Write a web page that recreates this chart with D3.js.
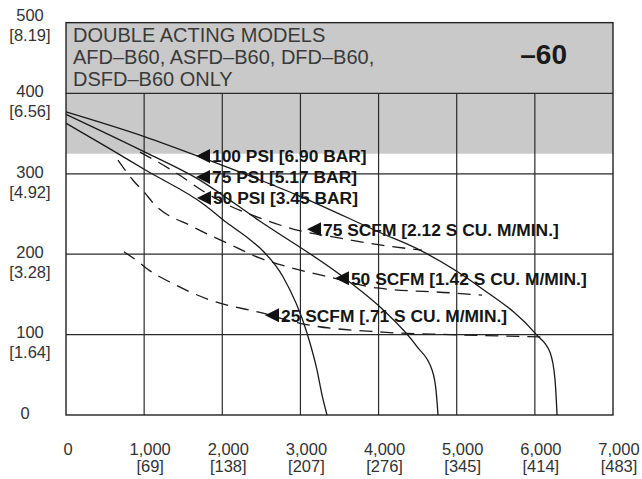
<!DOCTYPE html>
<html><head><meta charset="utf-8">
<script src="https://cdn.jsdelivr.net/npm/d3@7"></script>
<style>
body{margin:0;background:#fff;}
svg{display:block;font-family:"Liberation Sans",Arial,Helvetica,sans-serif;}
</style></head><body>
<div id="chart"></div>
<script>
// ---- data ----
const xTicks = [0,1000,2000,3000,4000,5000,6000,7000];
const xTickMain = ["0","1,000","2,000","3,000","4,000","5,000","6,000","7,000"];
const xTickSub = ["","[69]","[138]","[207]","[276]","[345]","[414]","[483]"];
const yTicks = [0,100,200,300,400,500];
const yTickSub = ["","[1.64]","[3.28]","[4.92]","[6.56]","[8.19]"];

const psi100 = [[0,377],[1011,346],[1715,321],[2995,272],[4018,227],[4530,205],[5298,159],[6020,100],[6194,78],[6258,44],[6284,0]];
const psi75  = [[0,374],[1011,327],[1664,295],[2483,241],[3596,168],[4057,131],[4492,85],[4684,56],[4735,31],[4761,0]];
const psi50  = [[0,363],[563,331],[1011,305],[1779,261],[2060,239],[2355,218],[2521,204],[2777,172],[3084,102],[3212,56],[3276,25],[3340,0]];
const scfm75 = [[947,327],[1395,302],[1779,277],[2099,260],[2483,245],[2956,230],[3507,220],[4057,211],[4556,205]];
const scfm50 = [[665,317],[857,292],[1011,276],[1113,264],[1625,234],[2060,214],[2483,195],[2739,187],[3442,170],[3980,158],[4914,152],[5324,149]];
const scfm25 = [[742,203],[947,189],[1037,182],[1357,164],[1843,143],[2547,126],[2995,114],[4057,103],[4914,100],[6168,97]];

const seriesNames = ["100 PSI [6.90 BAR]","75 PSI [5.17 BAR]","50 PSI [3.45 BAR]","75 SCFM [2.12 S CU. M/MIN.]","50 SCFM [1.42 S CU. M/MIN.]","25 SCFM [.71 S CU. M/MIN.]"];
const seriesData = [psi100, psi75, psi50, scfm75, scfm50, scfm25];
const seriesDashed = [false,false,false,true,true,true];
const labelAtX = [1664,1664,1676,3084,3442,2547];
const labelAtY = [322,296,270,231,170,124];

const headerLines = ["DOUBLE ACTING MODELS","AFD–B60, ASFD–B60, DFD–B60,","DSFD–B60 ONLY"];
const headerTag = "–60";
const shadeRange = [325,400];
const frameTop = 488;

// ---- drawing ----
const W=642,H=479;
const svg=d3.select("#chart").append("svg").attr("width",W).attr("height",H);
const x=d3.scaleLinear().domain([0,7000]).range([66,613]);
const y=d3.scaleLinear().domain([0,500]).range([415,13]);

// shading
svg.append("rect").attr("x",x(0)).attr("y",y(frameTop)).attr("width",x(7000)-x(0)).attr("height",y(shadeRange[0])-y(frameTop)).attr("fill","#c9c9c9");

// grid
const g=svg.append("g").attr("stroke","#2a2a2a").attr("stroke-width",1.2);
g.selectAll("line.v").data(xTicks.slice(1,-1)).join("line").attr("x1",d=>x(d)).attr("x2",d=>x(d)).attr("y1",y(0)).attr("y2",y(400));
g.selectAll("line.h").data([100,200,300,400]).join("line").attr("x1",x(0)).attr("x2",x(7000)).attr("y1",d=>y(d)).attr("y2",d=>y(d));
svg.append("rect").attr("x",x(0)).attr("y",y(frameTop)).attr("width",x(7000)-x(0)).attr("height",y(0)-y(frameTop)).attr("fill","none").attr("stroke","#222").attr("stroke-width",1.4);

// header text
svg.append("g").selectAll("text").data(headerLines).join("text")
 .attr("x",x(0)+7).attr("y",(d,i)=>42+i*22).attr("font-size",20).attr("fill","#3a3a3a").text(d=>d);
svg.append("text").attr("x",567).attr("y",64).attr("text-anchor","end").attr("font-size",28).attr("font-weight","bold").attr("fill","#1a1a1a").text(headerTag);

// axis labels
const yl=svg.append("g").attr("font-size",16.5).attr("fill","#333").attr("text-anchor","middle");
yTicks.forEach((v,i)=>{
  yl.append("text").attr("x",v===0?25:30).attr("y",y(v)+(v===500?2:-2)).attr("dy","0.35em").text(d3.format("d")(v));
  if(yTickSub[i]) yl.append("text").attr("x",30).attr("y",y(v)+(v===500?22:18)).attr("dy","0.35em").text(yTickSub[i]);
});
const xl=svg.append("g").attr("font-size",16.5).attr("fill","#333").attr("text-anchor","middle");
xTicks.forEach((v,i)=>{
  xl.append("text").attr("x",x(v)+(i===0?2:6)).attr("y",449).attr("dy","0.35em").text(xTickMain[i]);
  if(xTickSub[i]) xl.append("text").attr("x",x(v)+6).attr("y",466).attr("dy","0.35em").text(xTickSub[i]);
});

// curves
const line=d3.line().x(d=>x(d[0])).y(d=>y(d[1])).curve(d3.curveMonotoneX);
seriesData.forEach((s,i)=>{
  svg.append("path").attr("d",line(s)).attr("fill","none").attr("stroke","#1a1a1a").attr("stroke-width",1.3)
   .attr("stroke-dasharray",seriesDashed[i]?"13,8":null);
});

// labels
seriesNames.forEach((n,i)=>{
  const px=x(labelAtX[i]), py=y(labelAtY[i]);
  svg.append("path").attr("d",`M${px},${py}L${px+14},${py-7}L${px+14},${py+7}Z`).attr("fill","#111");
  svg.append("text").attr("x",px+16).attr("y",py).attr("dy","0.36em").attr("font-size",17.4).attr("font-weight","bold").attr("fill","#151515").text(n);
});
</script></body></html>
